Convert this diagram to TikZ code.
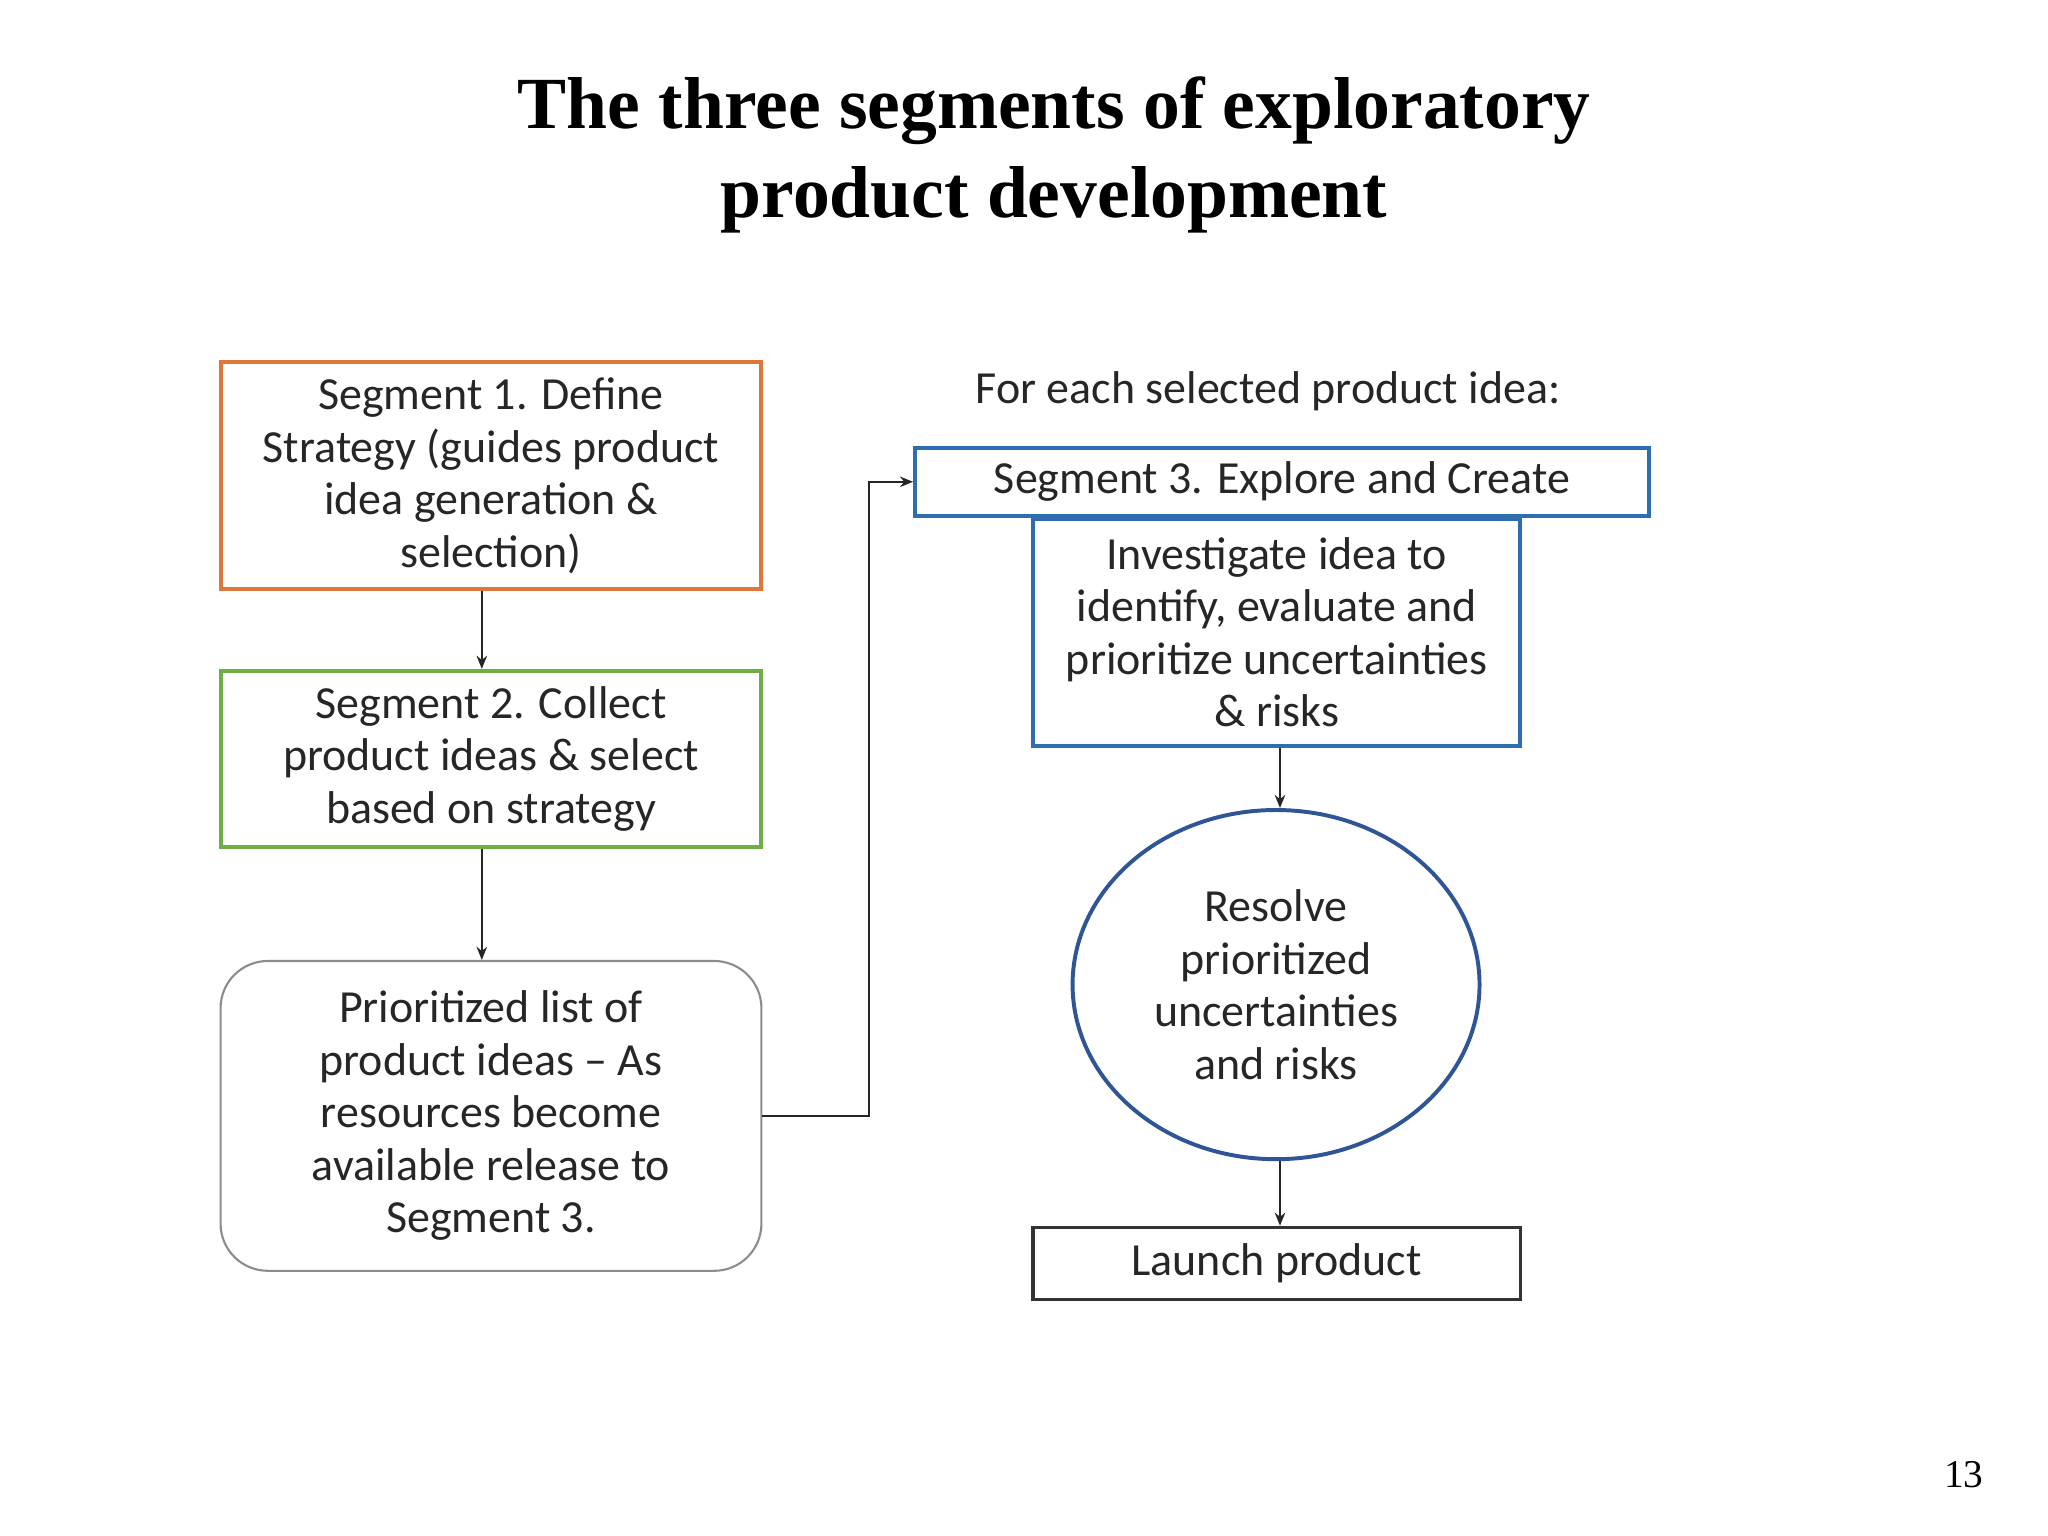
\documentclass[tikz,border=0pt]{standalone}
\usepackage{fontspec}
\setmainfont{Carlito}
\newfontfamily\titlefont{Liberation Serif}
\usetikzlibrary{shapes.geometric,arrows.meta}
\definecolor{orng}{HTML}{E0773A}
\definecolor{grn}{HTML}{6FAD47}
\definecolor{blu}{HTML}{2E6DB0}
\definecolor{cblu}{HTML}{2F5597}
\begin{document}
\begin{tikzpicture}[x=0.5pt,y=-0.5pt,
  txt/.style={align=center,font=\fontsize{17.5}{20}\selectfont,text=black!85,inner sep=0pt},
  arr/.style={-{Stealth[length=5pt,width=4pt]},line width=0.8pt,draw=black!85},
  boxA/.style={draw,line width=1.5pt}]
\useasboundingbox (0,0) rectangle (1560,1170);
\fill[white] (0,0) rectangle (1560,1170);
\node[font=\titlefont\bfseries\fontsize{28}{34}\selectfont,align=center] (title) at (803,118) {The three segments of exploratory\\product development};
\node[boxA,draw=orng,minimum width=206pt,minimum height=86.5pt,txt] (s1) at (374,362.5) {Segment 1. Define\\Strategy (guides product\\idea generation \&\\selection)};
\node[boxA,draw=grn,minimum width=206pt,minimum height=67pt,txt] (s2) at (374,578) {Segment 2. Collect\\product ideas \& select\\based on strategy};
\node[draw=black!45,line width=0.8pt,rounded corners=18pt,minimum width=206pt,minimum height=118pt,txt] (s3l) at (374,850) {Prioritized list of\\product ideas -- As\\resources become\\available release to\\Segment 3.};
\node[txt] (fe) at (966,298) {For each selected product idea:};
\node[boxA,draw=blu,minimum width=279.5pt,minimum height=26pt,txt] (seg3) at (976.5,367) {Segment 3. Explore and Create};
\node[boxA,draw=blu,minimum width=185.5pt,minimum height=86.5pt,txt] (inv) at (972.5,481.5) {Investigate idea to\\identify, evaluate and\\prioritize uncertainties\\\& risks};
\node[ellipse,draw=cblu,line width=1.5pt,minimum width=155pt,minimum height=133pt,inner sep=0pt,txt] (res) at (972,750) {Resolve\\prioritized\\uncertainties\\and risks};
\node[draw=black!80,line width=1.3pt,minimum width=185.5pt,minimum height=27.5pt,txt] (lp) at (972.5,962.5) {Launch product};
\node[font=\titlefont\fontsize{15}{18}\selectfont] (pg) at (1496,1123) {13};
\coordinate (a1) at (367,449);
\draw[arr] (s1.south -| a1) -- (s2.north -| a1);
\draw[arr] (s2.south -| a1) -- (s3l.north -| a1);
\draw[arr] (s3l.east) -- (662,850) -- (662,367) -- (seg3.west);
\coordinate (c1) at (975,0);
\draw[arr] (inv.south -| c1) -- (res.north -| c1);
\draw[arr] (res.south -| c1) -- (lp.north -| c1);
\end{tikzpicture}
\end{document}
